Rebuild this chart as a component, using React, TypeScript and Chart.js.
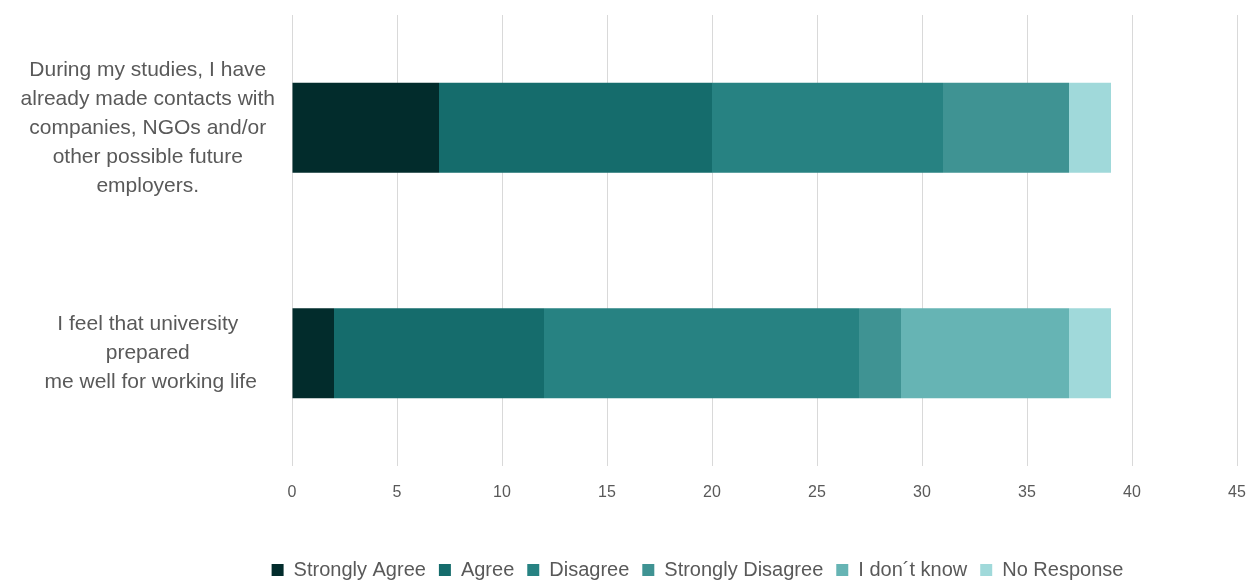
import React, { useEffect, useRef } from "react";
import { Chart, registerables } from "chart.js";

Chart.register(...registerables);

const categories: string[][] = [
  ["During my studies, I have", "already made contacts with", "companies, NGOs and/or", "other possible future", "employers."],
  ["I feel that university", "prepared", " me well for working life"],
];

const seriesNames = ["Strongly Agree", "Agree", "Disagree", "Strongly Disagree", "I don´t know", "No Response"];
const stronglyAgree = [7, 2];
const agree = [13, 10];
const disagree = [11, 15];
const stronglyDisagree = [6, 2];
const dontKnow = [0, 8];
const noResponse = [2, 2];
const colors = ["#022C2C", "#156C6C", "#278282", "#3F9393", "#66B4B4", "#A0D9DA"];
const xTicks = [0, 5, 10, 15, 20, 25, 30, 35, 40, 45];

const legendShift = {
  id: "legendShift",
  afterLayout(chart: any) {
    if (chart.legend) {
      chart.legend.left += 75;
      chart.legend.right += 75;
    }
  },
};

export default function App() {
  const ref = useRef<HTMLCanvasElement | null>(null);
  useEffect(() => {
    document.body.style.margin = "0";
    const values = [stronglyAgree, agree, disagree, stronglyDisagree, dontKnow, noResponse];
    const chart = new Chart(ref.current!, {
      type: "bar",
      data: {
        labels: categories,
        datasets: values.map((v, i) => ({
          label: seriesNames[i],
          data: v,
          backgroundColor: colors[i],
          borderWidth: 0,
          categoryPercentage: 0.8,
          barPercentage: 0.5,
        })),
      },
      options: {
        indexAxis: "y",
        animation: false,
        responsive: false,
        maintainAspectRatio: false,
        layout: { padding: { top: 15, right: 22, bottom: 0, left: 8 } },
        scales: {
          x: {
            stacked: true,
            min: 0,
            max: 45,
            afterBuildTicks: (s: any) => {
              s.ticks = xTicks.map((v) => ({ value: v }));
            },
            afterFit: (s: any) => {
              s.height = 81;
              s.paddingLeft = 0;
              s.paddingRight = 0;
            },
            grid: { color: "#D9D9D9", drawTicks: false },
            border: { display: false },
            ticks: { color: "#595959", font: { family: "Liberation Sans", size: 16 }, padding: 17 },
          },
          y: {
            stacked: true,
            afterFit: (s: any) => {
              s.width = 284;
              s.paddingTop = 0;
              s.paddingBottom = 0;
            },
            grid: { display: false, drawTicks: false },
            border: { display: false },
            ticks: {
              color: "#595959",
              font: { family: "Liberation Sans", size: 21, lineHeight: 1.38 },
              crossAlign: "center",
              padding: 17,
            },
          },
        },
        plugins: {
          legend: {
            position: "bottom",
            labels: {
              color: "#595959",
              font: { family: "Liberation Sans", size: 20 },
              boxWidth: 12,
              boxHeight: 12,
              padding: 13,
            },
          },
          tooltip: { enabled: false },
        },
      },
      plugins: [legendShift],
    });
    return () => chart.destroy();
  }, []);
  return (
    <div style={{ position: "fixed", left: 0, top: 0, width: 1259, height: 581, overflow: "hidden" }}>
      <canvas ref={ref} width={1259} height={590} />
    </div>
  );
}
